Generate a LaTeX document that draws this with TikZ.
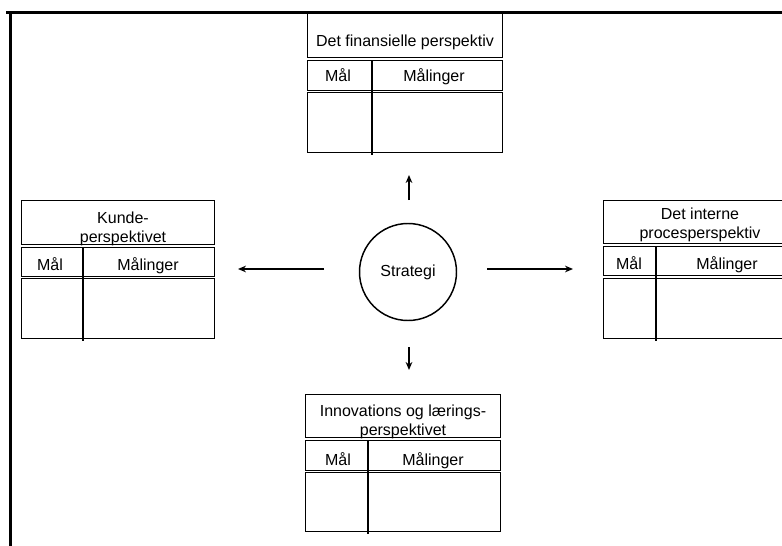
\documentclass[tikz,border=0pt]{standalone}
\usepackage{fontspec}
\setmainfont{Liberation Sans}
\usetikzlibrary{arrows.meta}
\begin{document}
\begin{tikzpicture}[x=0.75pt,y=-0.75pt,
  cell/.style={draw, line width=1.1pt, inner sep=0pt, anchor=north west, minimum width=#1*0.75pt},
  cell/.default=195,
  ht/.style={minimum height=#1*0.75pt},
  lbl/.style={inner sep=0pt, align=center, font=\fontsize{12}{14}\selectfont},
  hd/.style={lbl, text height=9pt, text depth=2.6pt},
  divider/.style={line width=1.1pt},
  frame/.style={line width=2.4pt},
  arr/.style={line width=1.1pt, -{Stealth[length=6pt,width=5pt]}}]
\useasboundingbox (0,0) rectangle (782,546);
\clip (0,0) rectangle (782,546);
% outer frame
\coordinate (fbl) at (10.5,546);
\coordinate (ftl) at (10.5,12.5);
\coordinate (ftr) at (782,12.5);
\draw[frame] (fbl) -- (ftl) -- (ftr);
\draw[frame] (6,12.5) -- (ftl);

% top box: Det finansielle perspektiv
\node[cell, ht=44] (fin-title) at (307,13) {};
\node[cell, ht=30] (fin-head) at (307,60) {};
\node[cell, ht=60] (fin-body) at (307,92) {};
\coordinate (fin-d1) at (372,60);
\coordinate (fin-d2) at (372,155);
\draw[divider] (fin-d1) -- (fin-d2);
\node[hd] (fin-t) at (405,42) {Det finansielle perspektiv};
\node[hd] (fin-m) at (338,77) {Mål};
\node[hd] (fin-ml) at (434,77) {Målinger};

% left box: Kundeperspektivet
\node[cell=193, ht=44] (kun-title) at (21,200) {};
\node[cell=193, ht=29] (kun-head) at (21,247) {};
\node[cell=193, ht=60] (kun-body) at (21,278) {};
\coordinate (kun-d1) at (83,247);
\coordinate (kun-d2) at (83,341);
\draw[divider] (kun-d1) -- (kun-d2);
\node[lbl] (kun-t) at (123,229) {Kunde-\\[0.5pt]perspektivet};
\node[hd] (kun-m) at (50,266) {Mål};
\node[hd] (kun-ml) at (148,266) {Målinger};

% right box: Det interne procesperspektiv
\node[cell, ht=43] (int-title) at (603,200) {};
\node[cell, ht=29] (int-head) at (603,246) {};
\node[cell, ht=60] (int-body) at (603,278) {};
\coordinate (int-d1) at (656,246);
\coordinate (int-d2) at (656,341);
\draw[divider] (int-d1) -- (int-d2);
\node[lbl] (int-t) at (700,225) {Det interne\\[0.5pt]procesperspektiv};
\node[hd] (int-m) at (629,265) {Mål};
\node[hd] (int-ml) at (727,265) {Målinger};

% bottom box: Innovations og læringsperspektivet
\node[cell, ht=43] (inn-title) at (305,394) {};
\node[cell, ht=30] (inn-head) at (305,440) {};
\node[cell, ht=59] (inn-body) at (305,472) {};
\coordinate (inn-d1) at (368,440);
\coordinate (inn-d2) at (368,534);
\draw[divider] (inn-d1) -- (inn-d2);
\node[lbl] (inn-t) at (403,422) {Innovations og lærings-\\[0.5pt]perspektivet};
\node[hd] (inn-m) at (338,461) {Mål};
\node[hd] (inn-ml) at (433,461) {Målinger};

% centre
\node[draw, circle, line width=1.1pt, minimum size=97*0.75pt, inner sep=0pt,
      font=\fontsize{12}{14}\selectfont] (strat) at (408,272) {Strategi};

% arrows
\coordinate (up1) at (409,200);  \coordinate (up2) at (409,175);
\coordinate (dn1) at (409,347);  \coordinate (dn2) at (409,370);
\coordinate (lf1) at (324,269);  \coordinate (lf2) at (238,269);
\coordinate (rt1) at (487,269);  \coordinate (rt2) at (573,269);
\draw[arr] (up1) -- (up2);
\draw[arr] (dn1) -- (dn2);
\draw[arr] (lf1) -- (lf2);
\draw[arr] (rt1) -- (rt2);
\end{tikzpicture}
\end{document}
